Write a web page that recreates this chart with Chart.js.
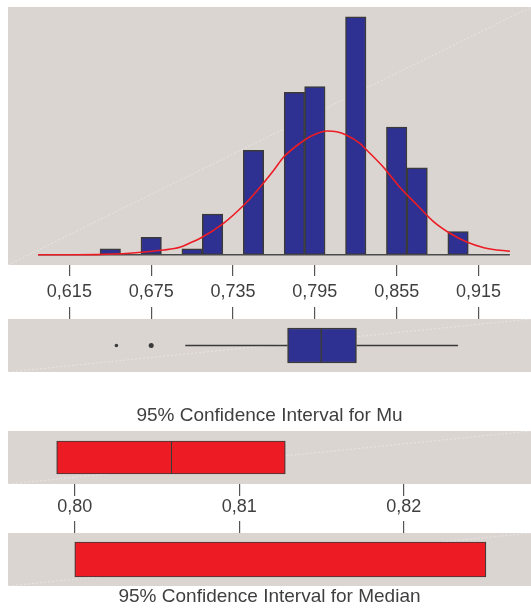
<!DOCTYPE html>
<html>
<head>
<meta charset="utf-8">
<script src="https://cdn.jsdelivr.net/npm/chart.js@4.4.1/dist/chart.umd.min.js"></script>
<style>
  body { margin: 0; background: #fff; width: 531px; height: 608px; position: relative; overflow: hidden; }
  canvas { position: absolute; left: 0; }
</style>
</head>
<body>
<canvas id="hist" width="531" height="302" style="top:0px"></canvas>
<canvas id="box" width="531" height="70" style="top:302px"></canvas>
<canvas id="ciMu" width="531" height="123" style="top:395px"></canvas>
<canvas id="ciMed" width="531" height="90" style="top:518px"></canvas>
<script>
// histogram (bin centres, counts) and fitted normal curve
const binCenters = [0.645, 0.660, 0.675, 0.690, 0.705, 0.720, 0.735, 0.750, 0.765,
                    0.780, 0.795, 0.810, 0.825, 0.840, 0.855, 0.870, 0.885, 0.900];
const binCounts = [1, 0, 3, 0, 1, 7, 0, 18, 0, 28, 29, 0, 41, 0, 22, 15, 0, 4];
const curveX = [0.592, 0.620, 0.635, 0.659, 0.684, 0.696, 0.703, 0.711, 0.728, 0.743,
                0.752, 0.765, 0.772, 0.784, 0.794, 0.804, 0.811, 0.818, 0.828, 0.833,
                0.845, 0.857, 0.870, 0.882, 0.894, 0.906, 0.919, 0.936, 0.938];
const curveY = [0, 0, 0.02, 0.24, 0.81, 1.28, 1.97, 2.83, 5.41, 8.57,
                10.86, 14.6, 16.8, 19.2, 20.64, 21.33, 21.2, 20.64, 19.2, 18.05,
                15.17, 11.72, 8.57, 5.69, 3.69, 2.24, 1.21, 0.64, 0.6];
const histRange = [0.592, 0.938];
const histTicks = [0.615, 0.675, 0.735, 0.795, 0.855, 0.915];

// boxplot
const whiskerLow = 0.700, q1 = 0.775, median = 0.800, q3 = 0.8255, whiskerHigh = 0.900;
const outliers = [0.6495, 0.675];

// confidence intervals
const muCI = [0.7989, 0.8128];
const muMean = 0.8059;
const medianCI = [0.800, 0.825];
const ciTicks = [0.80, 0.81, 0.82];

const panelBg = '#dbd5d2';
const navy = '#2e3192';
const red = '#ed1c24';
const ink = '#3a3a3a';
const textColor = '#3f3f3f';
const family = "'Liberation Sans', Arial, sans-serif";

const panelPlugin = {
  id: 'panel',
  beforeDraw(chart) {
    const { ctx, chartArea: a } = chart;
    ctx.save();
    ctx.fillStyle = panelBg;
    ctx.fillRect(a.left, a.top, a.right - a.left, a.bottom - a.top);
    ctx.strokeStyle = 'rgba(255,255,255,0.45)';
    ctx.lineWidth = 0.8;
    ctx.setLineDash([2, 2]);
    ctx.beginPath();
    ctx.moveTo(a.left, a.bottom);
    ctx.lineTo(a.right, a.top);
    ctx.stroke();
    ctx.restore();
  }
};

function xAxis(o) {
  return {
    type: 'linear',
    position: o.position,
    min: o.min,
    max: o.max,
    bounds: 'data',
    offset: false,
    afterBuildTicks: s => { s.ticks = o.ticks.map(v => ({ value: v })); },
    afterFit: s => { s.height = o.height; },
    border: { display: false },
    grid: { drawOnChartArea: false, offset: false, tickLength: o.tickLength, color: '#555', lineWidth: 1.2 },
    ticks: {
      display: o.labels,
      padding: o.padding,
      color: textColor,
      font: { family: family, size: 18, lineHeight: 1 },
      callback: v => v.toFixed(o.digits).replace('.', ',')
    }
  };
}

const common = {
  responsive: false,
  animation: false,
  layout: { autoPadding: false, padding: { left: 8, right: 0, top: 0, bottom: 0 } },
  plugins: { legend: { display: false }, tooltip: { enabled: false } }
};

// histogram + normal curve
new Chart('hist', {
  type: 'bar',
  data: {
    datasets: [
      {
        type: 'line',
        data: curveX.map((x, i) => ({ x: x, y: curveY[i] })),
        borderColor: red,
        borderWidth: 1.6,
        pointRadius: 0,
        cubicInterpolationMode: 'monotone'
      },
      {
        type: 'line',
        data: histRange.map(x => ({ x: x, y: 0 })),
        borderColor: '#4a4a4a',
        borderWidth: 1.5,
        pointRadius: 0
      },
      {
        data: binCenters.map((x, i) => ({ x: x, y: binCounts[i] })),
        backgroundColor: navy,
        borderColor: ink,
        borderWidth: 1.5,
        borderSkipped: false,
        barPercentage: 1,
        categoryPercentage: 1
      }
    ]
  },
  options: {
    ...common,
    layout: { autoPadding: false, padding: { left: 8, right: 0, top: 7, bottom: 0 } },
    scales: {
      x: xAxis({ position: 'bottom', min: 0.570, max: 0.9535, ticks: histTicks, height: 37,
                 tickLength: 11, labels: true, padding: 7, digits: 3 }),
      y: { display: false, min: -1.776, max: 42.71 }
    }
  },
  plugins: [panelPlugin]
});

// boxplot
new Chart('box', {
  type: 'bar',
  data: {
    labels: ['box'],
    datasets: [
      {
        type: 'line',
        data: outliers.map(v => ({ x: v, y: 'box' })),
        showLine: false,
        pointRadius: [1.8, 2.5],
        pointBackgroundColor: ink,
        pointBorderWidth: 0
      },
      {
        type: 'line',
        data: [{ x: whiskerLow, y: 'box' }, { x: q1, y: 'box' }],
        borderColor: ink, borderWidth: 1.4, pointRadius: 0
      },
      {
        type: 'line',
        data: [{ x: q3, y: 'box' }, { x: whiskerHigh, y: 'box' }],
        borderColor: ink, borderWidth: 1.4, pointRadius: 0
      },
      {
        data: [[q1, median]],
        backgroundColor: navy, borderColor: ink, borderSkipped: false,
        borderWidth: { top: 1.5, bottom: 1.5, left: 1.5, right: 1.5 },
        barThickness: 35, grouped: false
      },
      {
        data: [[median, q3]],
        backgroundColor: navy, borderColor: ink, borderSkipped: false,
        borderWidth: { top: 1.5, bottom: 1.5, left: 0, right: 1.5 },
        barThickness: 35, grouped: false
      }
    ]
  },
  options: {
    ...common,
    indexAxis: 'y',
    scales: {
      x: xAxis({ position: 'top', min: 0.570, max: 0.9535, ticks: histTicks, height: 17,
                 tickLength: 12, labels: false, padding: 0, digits: 3 }),
      y: { display: false }
    }
  },
  plugins: [panelPlugin]
});

// 95% CI for mu
new Chart('ciMu', {
  type: 'bar',
  data: {
    labels: ['ci'],
    datasets: [
      {
        data: [[muCI[0], muMean]],
        backgroundColor: red, borderColor: ink, borderSkipped: false,
        borderWidth: { top: 1.2, bottom: 1.2, left: 1.2, right: 1.2 },
        barThickness: 33, grouped: false
      },
      {
        data: [[muMean, muCI[1]]],
        backgroundColor: red, borderColor: ink, borderSkipped: false,
        borderWidth: { top: 1.2, bottom: 1.2, left: 0, right: 1.2 },
        barThickness: 33, grouped: false
      }
    ]
  },
  options: {
    ...common,
    indexAxis: 'y',
    plugins: {
      ...common.plugins,
      title: {
        display: true, position: 'top', text: '95% Confidence Interval for Mu',
        color: textColor, font: { family: family, size: 19, weight: 'normal', lineHeight: 1 },
        padding: { top: 11, bottom: 6 }
      }
    },
    scales: {
      x: xAxis({ position: 'bottom', min: 0.79594, max: 0.82774, ticks: ciTicks, height: 34,
                 tickLength: 12, labels: true, padding: 2, digits: 2 }),
      y: { display: false }
    }
  },
  plugins: [panelPlugin]
});

// 95% CI for median
new Chart('ciMed', {
  type: 'bar',
  data: {
    labels: ['ci'],
    datasets: [
      {
        data: [medianCI],
        backgroundColor: red, borderColor: ink, borderSkipped: false,
        borderWidth: 1.2, barThickness: 35
      }
    ]
  },
  options: {
    ...common,
    indexAxis: 'y',
    plugins: {
      ...common.plugins,
      title: {
        display: true, position: 'bottom', text: '95% Confidence Interval for Median',
        color: textColor, font: { family: family, size: 19, weight: 'normal', lineHeight: 1 },
        padding: { top: 1, bottom: 2 }
      }
    },
    scales: {
      x: xAxis({ position: 'top', min: 0.79594, max: 0.82774, ticks: ciTicks, height: 15,
                 tickLength: 12, labels: false, padding: 0, digits: 2 }),
      y: { display: false }
    }
  },
  plugins: [panelPlugin]
});
</script>
</body>
</html>
